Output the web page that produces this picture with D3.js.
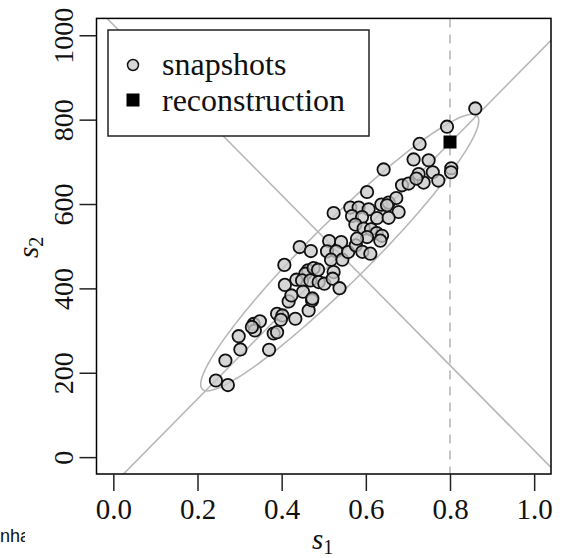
<!DOCTYPE html>
<html><head><meta charset="utf-8">
<script src="https://cdn.jsdelivr.net/npm/d3@7"></script>
<style>body{margin:0;background:#fff} svg{display:block}</style>
</head><body>
<svg id="c" width="562" height="558"></svg>
<script>
// ---- data ----
const snapshotS1 = [0.2437,0.2722,0.2663,0.3019,0.2979,0.3335,0.3482,0.3363,0.3292,0.3701,0.3810,0.3891,0.3891,0.4017,0.3981,0.4166,0.4325,0.4641,0.4722,
  0.4428,0.4694,0.4064,0.5128,0.5413,0.5078,0.5299,0.5173,0.5442,0.5580,0.5762,0.5917,0.6107,0.4627,0.4563,0.4760,0.4865,0.4349,0.4485,0.4682,0.4879,0.5014,0.5235,0.5211,0.5375,0.4076,0.4508,0.4230,0.4729,
  0.6029,0.5235,0.6860,0.7017,0.7373,0.5632,0.5829,0.6067,0.5672,0.5910,0.6266,0.6368,0.6542,0.6724,0.6504,0.6779,0.6542,0.5751,0.5948,0.6124,0.6257,0.6385,0.6344,0.6029,0.5791,
  0.8601,0.7929,0.7278,0.6423,0.7135,0.7492,0.7591,0.7722,0.8031,0.8024,0.7254,0.7200];
const snapshotS2 = [181.6,170.9,229.1,255.2,286.7,315.7,322.1,300.3,308.6,254.4,293.1,296.2,339.9,335.9,325.7,369.1,328.0,347.7,371.5,
  498.0,488.5,455.7,512.2,509.9,487.8,487.8,468.1,468.1,486.1,502.0,486.6,482.3,442.7,434.8,448.1,444.3,420.6,418.9,418.9,414.9,411.1,438.6,423.0,400.4,408.3,392.1,383.3,376.2,
  628.5,578.7,644.4,648.5,650.8,591.5,591.5,587.5,571.6,569.2,566.8,598.6,603.4,614.3,597.0,581.1,567.3,551.2,541.7,540.0,531.0,524.6,513.2,521.7,517.9,
  826.5,783.3,742.5,681.9,705.7,703.8,675.3,655.6,684.8,675.3,671.0,660.3];
const reconstructionS1 = [0.8];
const reconstructionS2 = [747];
const xTicks = [0, 0.2, 0.4, 0.6, 0.8, 1.0];
const xTickLabels = ["0.0", "0.2", "0.4", "0.6", "0.8", "1.0"];
const yTicks = [0, 200, 400, 600, 800, 1000];
const yTickLabels = ["0", "200", "400", "600", "800", "1000"];
const legendLabels = ["snapshots", "reconstruction"];
const markerS1 = [0.8];
const pcCentre = [0.539, 481];
const pcSlopes = [1012, -1009];
const ellipseCentre = [0.538, 485];
const ellipseMajor = [0.3265, 324];
const ellipseMinor = [0.0505, -50.3];

// ---- drawing ----
const svg = d3.select("#c");
const L = 96.5, R = 551, T = 18.4, B = 474;
const x = d3.scaleLinear().domain([-0.04, 1.04]).range([L, R]);
const y = d3.scaleLinear().domain([-40, 1040]).range([B, T]);
const serif = "'Liberation Serif','Times New Roman',serif";
const grey = "#b8b8b8";

svg.append("defs").append("clipPath").attr("id", "plotclip")
  .append("rect").attr("x", L).attr("y", T).attr("width", R - L).attr("height", B - T);
svg.select("defs").append("clipPath").attr("id", "txtclip")
  .append("rect").attr("x", 0).attr("y", 500).attr("width", 25).attr("height", 58);

const g = svg.append("g").attr("clip-path", "url(#plotclip)");

// principal lines
const xd = x.domain();
pcSlopes.forEach(s => {
  const f = v => pcCentre[1] + s * (v - pcCentre[0]);
  g.append("line")
    .attr("x1", x(xd[0])).attr("y1", y(f(xd[0])))
    .attr("x2", x(xd[1])).attr("y2", y(f(xd[1])))
    .attr("stroke", grey).attr("stroke-width", 1.6);
});

// ellipse
const ts = d3.range(0, 361, 2).map(a => a * Math.PI / 180);
const ell = ts.map(t => [
  ellipseCentre[0] + ellipseMajor[0] * Math.cos(t) + ellipseMinor[0] * Math.sin(t),
  ellipseCentre[1] + ellipseMajor[1] * Math.cos(t) + ellipseMinor[1] * Math.sin(t)]);
g.append("path")
  .attr("d", d3.line().x(d => x(d[0])).y(d => y(d[1])).curve(d3.curveLinearClosed)(ell))
  .attr("fill", "none").attr("stroke", grey).attr("stroke-width", 1.6);

// dashed marker
markerS1.forEach(v => {
  g.append("line").attr("x1", x(v)).attr("x2", x(v)).attr("y1", T).attr("y2", B)
    .attr("stroke", grey).attr("stroke-width", 1.6).attr("stroke-dasharray", "9,7");
});

// snapshots
g.selectAll("circle.snap").data(snapshotS1.map((v, i) => [v, snapshotS2[i]]))
  .enter().append("circle").attr("class", "snap")
  .attr("cx", d => x(d[0])).attr("cy", d => y(d[1])).attr("r", 6.2)
  .attr("fill", "rgba(200,200,200,0.75)").attr("stroke", "#111").attr("stroke-width", 1.8);

// reconstruction
const sq = 13;
g.selectAll("rect.rec").data(reconstructionS1.map((v, i) => [v, reconstructionS2[i]]))
  .enter().append("rect").attr("class", "rec")
  .attr("x", d => x(d[0]) - sq / 2).attr("y", d => y(d[1]) - sq / 2)
  .attr("width", sq).attr("height", sq).attr("fill", "#000");

// box
svg.append("rect").attr("x", L).attr("y", T).attr("width", R - L).attr("height", B - T)
  .attr("fill", "none").attr("stroke", "#000").attr("stroke-width", 1.5);

// axes
const xa = svg.append("g").attr("transform", `translate(0,${B})`)
  .call(d3.axisBottom(x).tickValues(xTicks).tickFormat((d, i) => xTickLabels[i]).tickSize(17));
xa.select(".domain").remove();
xa.selectAll(".tick line").attr("stroke", "#222").attr("stroke-width", 1.5);
xa.selectAll(".tick text").attr("y", 45).attr("dy", null)
  .attr("font-family", serif).attr("font-size", 29).attr("fill", "#111");

const ya = svg.append("g").attr("transform", `translate(${L},0)`)
  .call(d3.axisLeft(y).tickValues(yTicks).tickFormat((d, i) => yTickLabels[i]).tickSize(17));
ya.select(".domain").remove();
ya.selectAll(".tick line").attr("stroke", "#222").attr("stroke-width", 1.5);
ya.selectAll(".tick text").attr("x", 0).attr("y", 0).attr("dy", null)
  .attr("transform", "translate(-24,0) rotate(-90)").attr("text-anchor", "middle")
  .attr("font-family", serif).attr("font-size", 28).attr("fill", "#111");

// axis titles
const xt = svg.append("text").attr("x", 312).attr("y", 549)
  .attr("font-family", serif).attr("font-size", 29).attr("fill", "#111");
xt.append("tspan").attr("font-style", "italic").text("s");
xt.append("tspan").attr("font-size", 20).attr("dy", 5).text("1");

const yt = svg.append("text").attr("transform", "translate(38,258) rotate(-90)")
  .attr("font-family", serif).attr("font-size", 29).attr("fill", "#111");
yt.append("tspan").attr("font-style", "italic").text("s");
yt.append("tspan").attr("font-size", 20).attr("dy", 5).text("2");

// legend
const lg = svg.append("g");
lg.append("rect").attr("x", 108).attr("y", 30).attr("width", 261).attr("height", 106)
  .attr("fill", "#fff").attr("stroke", "#222").attr("stroke-width", 1.5);
lg.append("circle").attr("cx", 133).attr("cy", 65).attr("r", 5.5)
  .attr("fill", "rgba(200,200,200,0.75)").attr("stroke", "#111").attr("stroke-width", 1.5);
lg.append("rect").attr("x", 133 - 6.5).attr("y", 100 - 6.5).attr("width", 13).attr("height", 13).attr("fill", "#000");
lg.selectAll("text.leg").data(legendLabels).enter().append("text").attr("class", "leg")
  .attr("x", 162).attr("y", (d, i) => 75 + i * 36)
  .attr("font-family", serif).attr("font-size", 32).attr("fill", "#111").text(d => d);

// cropped stray text at lower left
svg.append("text").attr("x", 0).attr("y", 542).attr("clip-path", "url(#txtclip)")
  .attr("font-family", "'Liberation Sans',Arial,sans-serif").attr("font-size", 18).attr("fill", "#111")
  .text("nha");
</script>
</body></html>
